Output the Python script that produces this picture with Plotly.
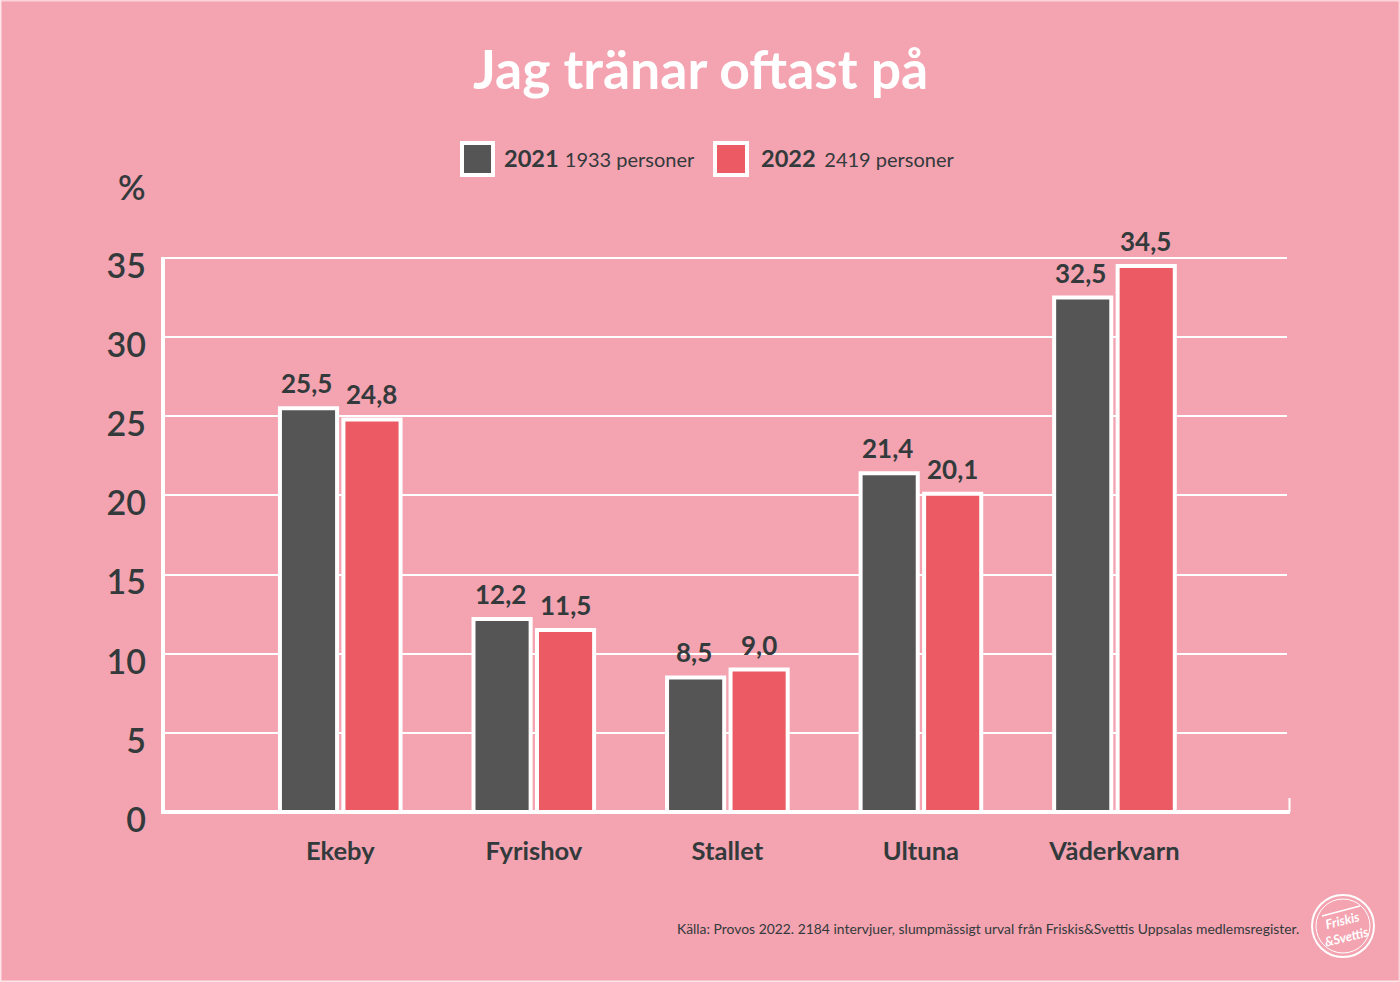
import plotly.graph_objects as go

categories = ["Ekeby", "Fyrishov", "Stallet", "Ultuna", "Väderkvarn"]
values_2021 = [25.5, 12.2, 8.5, 21.4, 32.5]
values_2022 = [24.8, 11.5, 9.0, 20.1, 34.5]
y_ticks = [0, 5, 10, 15, 20, 25, 30, 35]

FONT = "Lato"
PINK = "#f4a3b0"
GRAY = "#555555"
RED = "#ec5b63"
DARK = "#333a3c"
WHITE = "#ffffff"

W, H = 1400, 982
L, R, T, B = 163, 1287, 258, 812


# page pixels to paper coordinates of the plot area
def px_x(x):
    return (x - L) / (R - L)


def px_y(y):
    return (B - y) / (B - T)


def add_text(fig, x, y, text, size, color=DARK, weight=400, xanchor="center", angle=0):
    fig.add_annotation(
        x=px_x(x), y=px_y(y), xref="paper", yref="paper", text=text, showarrow=False,
        xanchor=xanchor, yanchor="middle", textangle=angle,
        font=dict(family=FONT, size=size, color=color, weight=weight),
    )


def add_box(fig, x0, y0, x1, y1, fill, width=4):
    fig.add_shape(
        type="rect", xref="paper", yref="paper",
        x0=px_x(x0), x1=px_x(x1), y0=px_y(y0), y1=px_y(y1),
        fillcolor=fill, line=dict(color=WHITE, width=width),
    )


def add_line(fig, x0, y0, x1, y1, width, color=WHITE):
    fig.add_shape(
        type="line", xref="paper", yref="paper",
        x0=px_x(x0), x1=px_x(x1), y0=px_y(y0), y1=px_y(y1),
        line=dict(color=color, width=width),
    )


fig = go.Figure()

for name, values, color, shift in [("2021", values_2021, GRAY, -33.5), ("2022", values_2022, RED, 31.5)]:
    fig.add_trace(go.Bar(
        x=categories, y=values, name=name,
        marker=dict(color=color, line=dict(color=WHITE, width=4)),
    ))
    # value labels sit a bit higher than plotly's outside text
    for cat, val in zip(categories, values):
        fig.add_annotation(
            x=cat, y=val, xshift=shift, yshift=7, yanchor="bottom", showarrow=False,
            text=f"{val:.1f}".replace(".", ","),
            font=dict(family=FONT, size=26, color=DARK, weight=700),
        )

fig.update_layout(
    width=W, height=H,
    margin=dict(l=L, r=W - R, t=T, b=H - B, autoexpand=False),
    paper_bgcolor=PINK, plot_bgcolor=PINK,
    barmode="group", bargap=0.344, bargroupgap=0.1,
    showlegend=False,
    font=dict(family=FONT, color=DARK),
)

fig.update_xaxes(
    range=[-0.9158, 4.8914], showgrid=False, zeroline=False, showline=False, ticks="",
    ticklabelstandoff=21,
    tickfont=dict(family=FONT, size=25.5, color=DARK, weight=700),
)
fig.update_yaxes(
    range=[0, 35], tickvals=y_ticks, showgrid=True, gridcolor=WHITE, gridwidth=2,
    zeroline=False, showline=False, ticks="",
    ticklabelstandoff=16, ticklabelshift=8,
    tickfont=dict(family=FONT, size=34, color=DARK, weight=600),
)

# axis lines, top grid line and the small closing tick
add_line(fig, L, T, R, T, 2)
add_line(fig, L, 814, L, T - 1, 4)
add_line(fig, 161, B, 1290, B, 4)
add_line(fig, 1289.5, B, 1289.5, 798, 2)

# thin light edge around the page
add_line(fig, 0, 0.5, W, 0.5, 2, "#fbd3da")
add_line(fig, 0, H - 0.5, W, H - 0.5, 2, "#fde6ea")
add_line(fig, 0.5, 0, 0.5, H, 2, "#fde6ea")
add_line(fig, W - 0.5, 0, W - 0.5, H, 2, "#fbd3da")

add_text(fig, 700, 67.5, "Jag tränar oftast på", 53.5, color=WHITE, weight=700)
add_text(fig, 132, 187, "%", 34, weight=600)

# legend
add_box(fig, 462, 143, 493, 175, GRAY)
add_text(fig, 502, 158, "<b>2021</b> <span style='font-size:20px'>1933 personer</span>", 23.6, xanchor="left")
add_box(fig, 715, 143, 747, 175, RED)
add_text(fig, 759, 158, "<b>2022</b> <span style='font-size:20px'>\u20092419 personer</span>", 23.6, xanchor="left")

add_text(fig, 1301, 929,
         "Källa: Provos 2022. 2184 intervjuer, slumpmässigt urval från Friskis&amp;Svettis Uppsalas medlemsregister.",
         13.9, xanchor="right")

# logo
for r, w in [(31, 2), (27, 1)]:
    fig.add_shape(type="circle", xref="paper", yref="paper",
                  x0=px_x(1343 - r), x1=px_x(1343 + r), y0=px_y(926 + r), y1=px_y(926 - r),
                  line=dict(color=WHITE, width=w))
add_line(fig, 1322, 916, 1360, 906, 1.5)
add_text(fig, 1344, 928, "<i>Friskis<br>&amp;Svettis</i>", 13, color=WHITE, weight=700, angle=-14)

fig.write_html("out.html", config=dict(displayModeBar=False),
               post_script="document.body.style.margin='0';document.body.style.overflow='hidden';")
